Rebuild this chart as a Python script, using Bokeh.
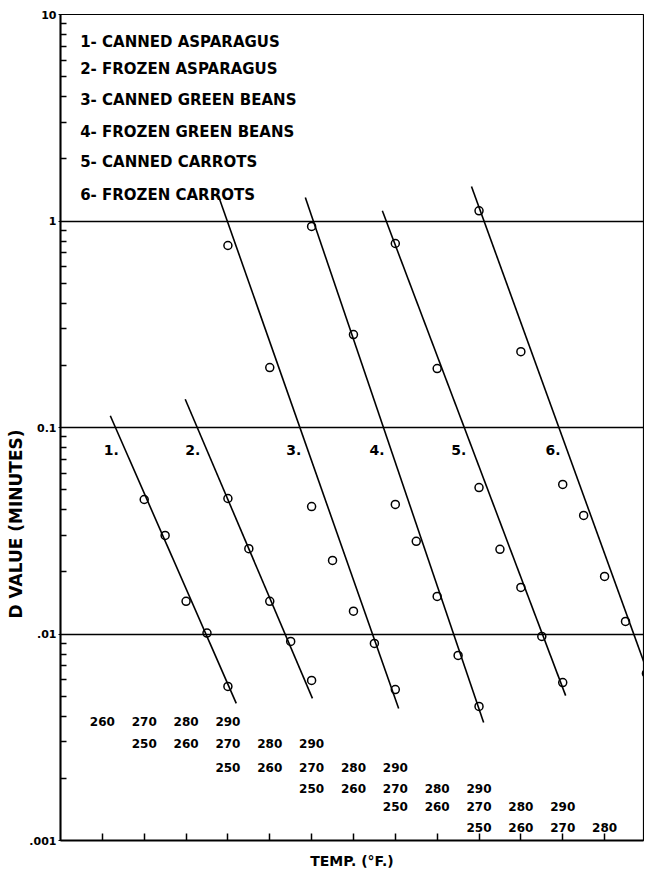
import numpy as np
from bokeh.plotting import figure
from bokeh.models import FixedTicker, Range1d, Label, Title
from bokeh.core.properties import value
from bokeh.embed import file_html
from bokeh.resources import INLINE

# ---------------- data ----------------
legend_lines = [
    "1- CANNED  ASPARAGUS",
    "2- FROZEN  ASPARAGUS",
    "3- CANNED  GREEN  BEANS",
    "4- FROZEN  GREEN  BEANS",
    "5- CANNED  CARROTS",
    "6- FROZEN  CARROTS",
]
series_numbers = ["1.", "2.", "3.", "4.", "5.", "6."]

temps_1 = [270, 275, 280, 285, 290]
dval_1 = [0.0448, 0.0300, 0.0144, 0.0101, 0.00557]
temps_2 = [270, 275, 280, 285, 290]
dval_2 = [0.0453, 0.0259, 0.0144, 0.0092, 0.00596]
temps_3 = [250, 260, 270, 275, 280, 285, 290]
dval_3 = [0.761, 0.195, 0.0414, 0.0227, 0.0129, 0.0090, 0.00538]
temps_4 = [250, 260, 270, 275, 280, 285, 290]
dval_4 = [0.941, 0.282, 0.0424, 0.0281, 0.0152, 0.00787, 0.00446]
temps_5 = [250, 260, 270, 275, 280, 285, 290]
dval_5 = [0.778, 0.193, 0.0512, 0.0257, 0.0168, 0.00973, 0.00582]
temps_6 = [250, 260, 270, 275, 280, 285, 290]
dval_6 = [1.12, 0.233, 0.053, 0.0375, 0.0190, 0.0115, 0.00644]

# fitted (hand drawn) lines: start / end  (temperature, D value)
line_t_start = [261.9, 259.8, 247.7, 248.5, 246.9, 248.2]
line_d_start = [0.114, 0.137, 1.33, 1.30, 1.12, 1.47]
line_t_end = [292.0, 290.2, 290.8, 291.1, 290.7, 292.2]
line_d_end = [0.00461, 0.00488, 0.00436, 0.00373, 0.00503, 0.0051]

temp_scale = [250, 260, 270, 280, 290]
y_ticks = [0.001, 0.01, 0.1, 1, 10]
y_tick_labels = [".001", ".01", "0.1", "1", "10"]
x_label = "TEMP. (°F.)"
y_label = "D  VALUE  (MINUTES)"

all_temps = [temps_1, temps_2, temps_3, temps_4, temps_5, temps_6]
all_dvals = [dval_1, dval_2, dval_3, dval_4, dval_5, dval_6]

# ---------------- layout ----------------
SHIFT = 2          # each product's temperature scale is shifted two ticks
X_MAX = 13.93
FONT_NAME = "DejaVu Sans"
FONT = value(FONT_NAME)


def xpos(t, i):
    return (np.asarray(t, dtype=float) - 250.0) / 10.0 + SHIFT * i


p = figure(width=644, height=871, x_range=Range1d(0, X_MAX),
           y_range=Range1d(0.001, 10), y_axis_type="log",
           output_backend="svg", toolbar_location=None, title=None,
           min_border_left=60, min_border_right=1, min_border_top=14,
           min_border_bottom=31)
p.background_fill_color = "white"
p.border_fill_color = "white"
p.outline_line_color = "black"
p.outline_line_width = 1.2

# y axis
minor = [m * 10.0 ** e for e in range(-3, 1) for m in range(2, 10)]
p.yaxis.ticker = FixedTicker(ticks=y_ticks, minor_ticks=minor)
p.yaxis.major_label_overrides = {t: l for t, l in zip(y_ticks, y_tick_labels)}
p.yaxis.major_tick_in = 0
p.yaxis.major_tick_out = 2
p.yaxis.minor_tick_in = 6
p.yaxis.minor_tick_out = 0
p.yaxis.minor_tick_line_width = 1.5
p.yaxis.axis_line_width = 2
p.yaxis.major_label_standoff = 2
p.yaxis.major_label_text_font = FONT_NAME
p.yaxis.major_label_text_font_style = "bold"
p.yaxis.major_label_text_font_size = "11px"
p.yaxis.major_label_text_color = "black"
p.yaxis.axis_line_color = "black"
p.yaxis.minor_tick_line_color = "black"
p.yaxis.major_tick_line_color = "black"

# x axis: unlabelled tick marks (as minor ticks) + axis title
p.xaxis.ticker = FixedTicker(ticks=[], minor_ticks=list(range(1, 14)))
p.xaxis.minor_tick_in = 7
p.xaxis.minor_tick_out = 0
p.xaxis.minor_tick_line_width = 1.5
p.xaxis.minor_tick_line_color = "black"
p.xaxis.major_tick_in = 0
p.xaxis.major_tick_out = 0
p.xaxis.axis_line_width = 2
p.xaxis.axis_line_color = "black"
p.xaxis.axis_label = x_label
p.xaxis.axis_label_standoff = 12
p.xaxis.axis_label_text_font = FONT_NAME
p.xaxis.axis_label_text_font_style = "bold"
p.xaxis.axis_label_text_font_size = "14px"
p.xaxis.axis_label_text_color = "black"

# y axis title (placed as a left-side title so it can sit low like the original)
p.add_layout(Title(text=y_label, align="left", offset=222, standoff=2,
                   vertical_align="bottom", text_font=FONT_NAME,
                   text_font_style="bold", text_font_size="17px",
                   text_color="black"), "left")

# grid
p.xgrid.visible = False
p.ygrid.ticker = FixedTicker(ticks=[0.01, 0.1, 1])
p.ygrid.grid_line_color = "black"
p.ygrid.grid_line_width = 1.3

# lines and points
label_d = 0.078
for i in range(6):
    xs = xpos([line_t_start[i], line_t_end[i]], i)
    p.line(xs, [line_d_start[i], line_d_end[i]], line_color="black", line_width=1.6)
    p.scatter(xpos(all_temps[i], i), all_dvals[i], marker="circle", size=8,
              fill_alpha=0, line_color="black", line_width=1.5)
    # series number, just left of its line
    f = (np.log10(label_d) - np.log10(line_d_start[i])) / (
        np.log10(line_d_end[i]) - np.log10(line_d_start[i]))
    lx = float(xs[0] + f * (xs[1] - xs[0]))
    p.add_layout(Label(x=lx, y=label_d, x_offset=-14, text=series_numbers[i],
                       text_font=FONT_NAME, text_font_style="bold",
                       text_font_size="14px", text_align="center",
                       text_baseline="middle", text_color="black"))

# temperature scales, one row per product
row_d = [0.00377, 0.00295, 0.00226, 0.00179, 0.00146, 0.00116]
for i in range(6):
    tx, tt = [], []
    for t in temp_scale:
        xv = float(xpos([t], i)[0])
        if 0.5 < xv < X_MAX - 0.3:
            tx.append(xv)
            tt.append(str(t))
    p.text(x=tx, y=[row_d[i]] * len(tx), text=tt, text_font=FONT,
           text_font_style="bold", text_font_size="12px", text_align="center",
           text_baseline="middle", text_color="black")

# legend block
leg_d = [7.40, 5.42, 3.87, 2.71, 1.92, 1.34]
p.text(x=[0.47] * 6, y=leg_d, text=legend_lines, text_font=FONT,
       text_font_style="bold", text_font_size="15px", text_align="left",
       text_baseline="middle", text_color="black")

open("out.html", "w").write(file_html(p, INLINE))
